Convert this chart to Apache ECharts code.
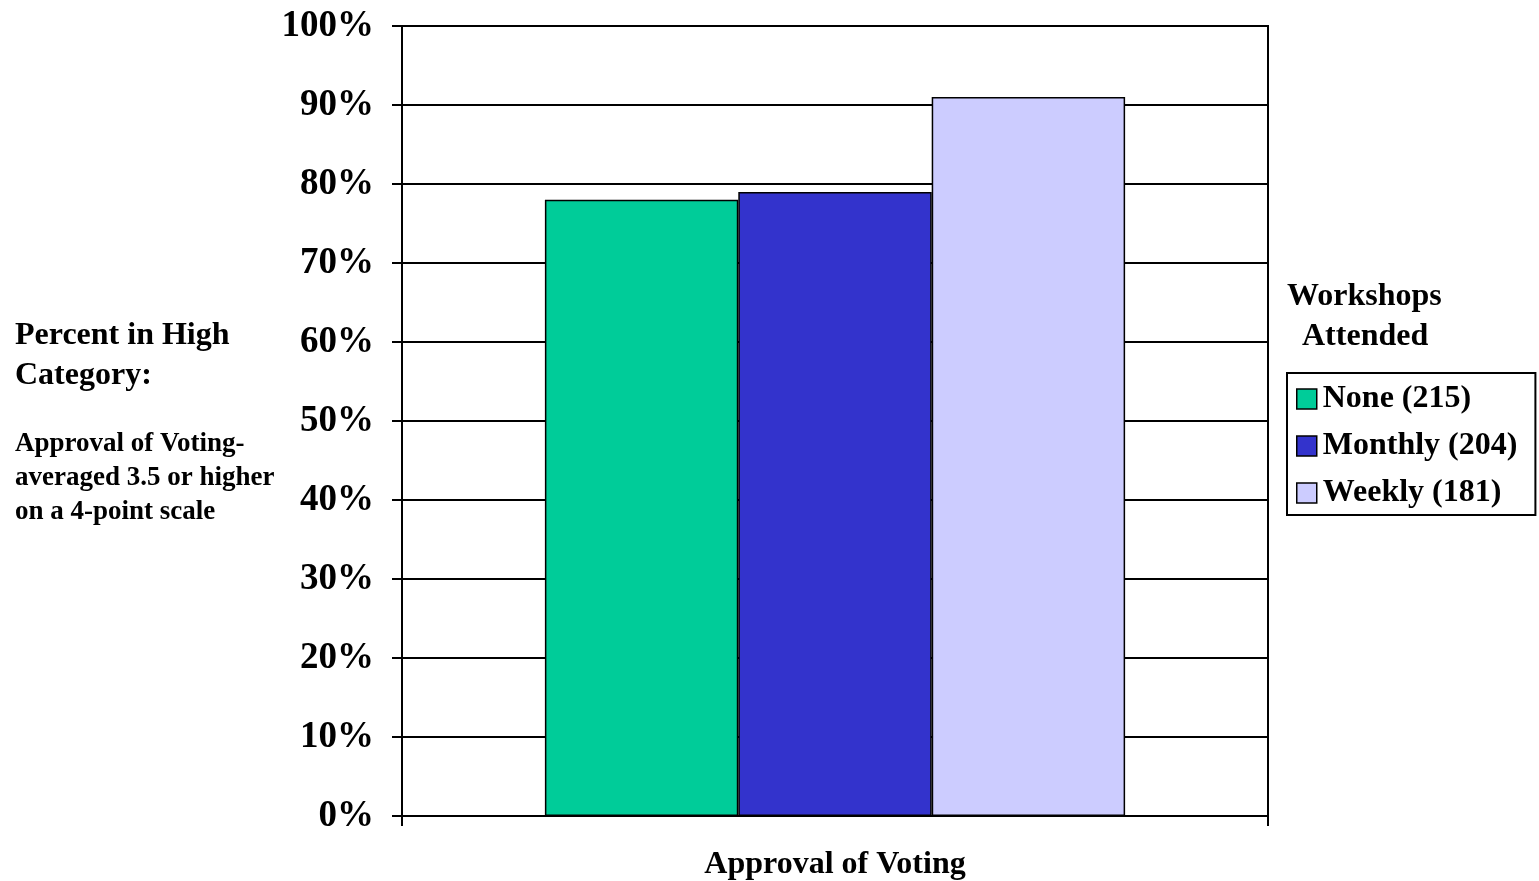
<!DOCTYPE html>
<html>
<head>
<meta charset="utf-8">
<script src="https://cdn.jsdelivr.net/npm/echarts@6/dist/echarts.min.js"></script>
<style>
  html, body { margin: 0; padding: 0; background: #fff; }
  #chart { width: 1539px; height: 881px; }
</style>
</head>
<body>
<div id="chart"></div>
<script>
  // data
  var categories = ['Approval of Voting'];
  var seriesNames = ['None (215)', 'Monthly (204)', 'Weekly (181)'];
  var noneValues = [78];
  var monthlyValues = [79];
  var weeklyValues = [91];
  var colors = ['#00cc99', '#3333cc', '#ccccff'];

  var font = 'Liberation Serif, Times New Roman, serif';

  var myChart = echarts.init(document.getElementById('chart'));

  function barSeries(name, data, color) {
    return {
      name: name,
      type: 'bar',
      data: data,
      barGap: '0%',
      barCategoryGap: '33%',
      itemStyle: { color: color, borderColor: '#000', borderWidth: 1.5 }
    };
  }

  myChart.setOption({
    animation: false,
    textStyle: { fontFamily: font, fontWeight: 'bold', color: '#000' },
    grid: {
      left: 402, top: 26, right: 271, bottom: 65,
      show: true, borderColor: '#000', borderWidth: 2
    },
    legend: {
      orient: 'vertical',
      left: 1287, top: 373,
      padding: [10, 18, 6, 9],
      itemGap: 15,
      itemWidth: 20, itemHeight: 20,
      icon: 'rect',
      borderColor: '#000', borderWidth: 2,
      itemStyle: { borderColor: '#000', borderWidth: 1.5 },
      textStyle: { fontFamily: font, fontWeight: 'bold', fontSize: 32, color: '#000', padding: [0, 0, 0, 1] },
      data: seriesNames
    },
    xAxis: {
      type: 'category',
      data: categories,
      axisLine: { lineStyle: { color: '#000', width: 2 } },
      axisTick: { show: true, interval: 0, alignWithLabel: false, length: 10, lineStyle: { color: '#000', width: 2 } },
      axisLabel: { margin: 33, fontSize: 32, fontWeight: 'bold', fontFamily: font, color: '#000' }
    },
    yAxis: {
      type: 'value',
      min: 0, max: 100, interval: 10,
      axisLine: { show: true, lineStyle: { color: '#000', width: 2 } },
      axisTick: { show: true, length: 10, lineStyle: { color: '#000', width: 2 } },
      axisLabel: { margin: 28, fontSize: 37, fontWeight: 'bold', fontFamily: font, color: '#000', formatter: '{value}%', padding: [6, 0, 0, 0] },
      splitLine: { lineStyle: { color: '#000', width: 2 } }
    },
    graphic: [
      { type: 'text', left: 15, top: 316, style: { text: 'Percent in High\nCategory:', font: 'bold 32px ' + font, lineHeight: 40, fill: '#000' } },
      { type: 'text', left: 15, top: 427, style: { text: 'Approval of Voting-\naveraged 3.5 or higher\non a 4-point scale', font: 'bold 27px ' + font, lineHeight: 34, fill: '#000' } },
      { type: 'text', left: 1287, top: 281, style: { text: 'Workshops', font: 'bold 32px ' + font, fill: '#000' } },
      { type: 'text', left: 1302, top: 321, style: { text: 'Attended', font: 'bold 32px ' + font, fill: '#000' } }
    ],
    series: [
      barSeries(seriesNames[0], noneValues, colors[0]),
      barSeries(seriesNames[1], monthlyValues, colors[1]),
      barSeries(seriesNames[2], weeklyValues, colors[2])
    ]
  });
</script>
</body>
</html>
